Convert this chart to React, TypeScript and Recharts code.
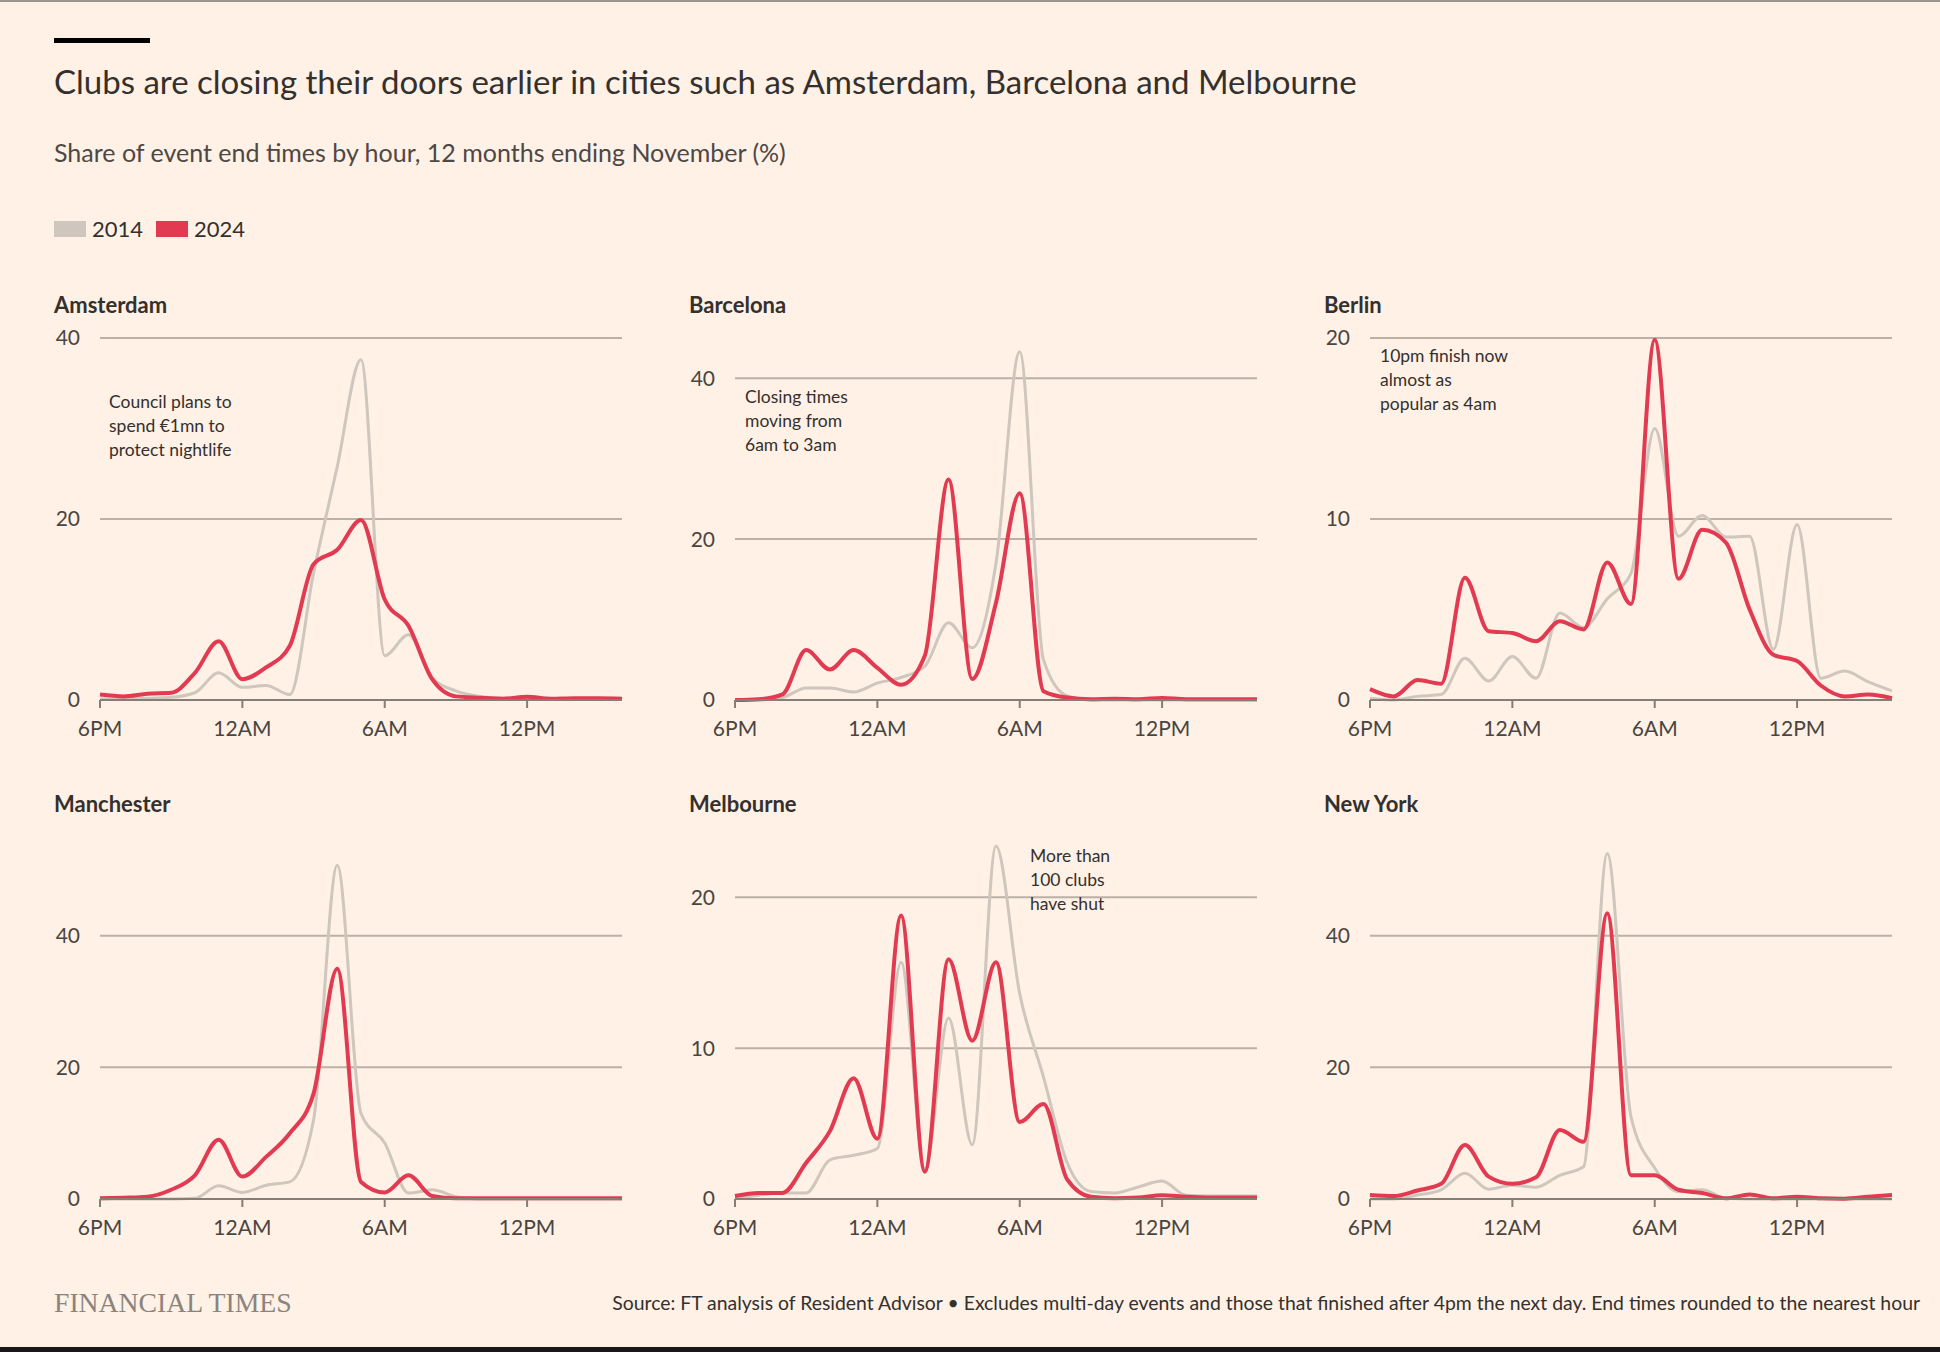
import { LineChart, Line, XAxis, YAxis, ReferenceLine } from "recharts";

// hours after 6PM (0 = 6PM ... 22 = 4PM next day)
const hours = [0, 1, 2, 3, 4, 5, 6, 7, 8, 9, 10, 11, 12, 13, 14, 15, 16, 17, 18, 19, 20, 21, 22];
const xTicks = [0, 6, 12, 18];
const xTickLabels = ["6PM", "12AM", "6AM", "12PM"];

const amsterdam2014 = [0.1, 0.1, 0.2, 0.3, 0.8, 3.0, 1.4, 1.6, 0.6, 14, 25.8, 37.6, 4.9, 7.2, 2.5, 1.0, 0.4, 0.2, 0.2, 0.1, 0.1, 0.1, 0.1];
const amsterdam2024 = [0.6, 0.4, 0.7, 0.8, 3.0, 6.5, 2.3, 3.6, 6.0, 15.0, 16.6, 19.9, 11.1, 8.2, 2.3, 0.4, 0.25, 0.15, 0.35, 0.15, 0.2, 0.2, 0.15];

const barcelona2014 = [0, 0, 0.3, 1.5, 1.5, 1.0, 2.1, 2.8, 4.2, 9.6, 6.5, 17, 43.3, 5, 0.5, 0, 0, 0, 0, 0, 0, 0, 0];
const barcelona2024 = [0, 0.1, 0.7, 6.2, 3.8, 6.2, 4.0, 1.9, 5.5, 27.4, 2.6, 12.1, 25.7, 1.1, 0.3, 0.1, 0.15, 0.1, 0.25, 0.1, 0.1, 0.1, 0.1];

const berlin2014 = [0.1, 0, 0.2, 0.3, 2.3, 1.05, 2.4, 1.2, 4.8, 4.0, 5.6, 7.0, 15.0, 9.05, 10.2, 9.0, 9.05, 2.8, 9.7, 1.2, 1.6, 1.0, 0.5];
const berlin2024 = [0.6, 0.2, 1.1, 0.9, 6.75, 3.8, 3.7, 3.25, 4.35, 3.9, 7.6, 5.3, 19.9, 6.7, 9.4, 8.7, 5.0, 2.5, 2.15, 0.8, 0.2, 0.3, 0.1];

const manchester2014 = [0, 0, 0, 0, 0.1, 2.0, 1.0, 2.1, 2.6, 12, 50.7, 13, 8.5, 0.9, 1.4, 0.35, 0, 0, 0, 0, 0, 0, 0];
const manchester2024 = [0.1, 0.2, 0.35, 1.4, 3.6, 9.0, 3.4, 6.4, 10, 16, 35.0, 2.6, 1.0, 3.6, 0.45, 0.1, 0.1, 0.1, 0.1, 0.1, 0.1, 0.1, 0.1];

const melbourne2014 = [0.05, 0.25, 0.4, 0.4, 2.6, 2.9, 3.35, 15.7, 2.0, 12.0, 3.6, 23.4, 13.6, 8.1, 2.4, 0.5, 0.4, 0.8, 1.2, 0.25, 0.2, 0.2, 0.2];
const melbourne2024 = [0.2, 0.4, 0.4, 2.4, 4.5, 8.0, 4.0, 18.8, 1.8, 15.9, 10.5, 15.7, 5.1, 6.3, 1.3, 0.15, 0.05, 0.1, 0.25, 0.15, 0.1, 0.1, 0.1];

const newYork2014 = [0, 0, 0.6, 1.4, 3.9, 1.5, 2.1, 1.8, 3.6, 4.9, 52.5, 12.5, 4.7, 1.1, 1.4, 0.1, 0, 0, 0, 0, 0, 0, 0];
const newYork2024 = [0.6, 0.45, 1.3, 2.3, 8.2, 3.4, 2.3, 3.3, 10.5, 8.7, 43.4, 3.6, 3.6, 1.4, 0.9, 0.1, 0.7, 0.1, 0.35, 0.1, 0.05, 0.35, 0.6];

const panels = [
  { city: "Amsterdam", a: amsterdam2014, b: amsterdam2024, max: 40, yTicks: [0, 20, 40], note: ["Council plans to", "spend €1mn to", "protect nightlife"] },
  { city: "Barcelona", a: barcelona2014, b: barcelona2024, max: 45, yTicks: [0, 20, 40], note: ["Closing times", "moving from", "6am to 3am"] },
  { city: "Berlin", a: berlin2014, b: berlin2024, max: 20, yTicks: [0, 10, 20], note: ["10pm finish now", "almost as", "popular as 4am"] },
  { city: "Manchester", a: manchester2014, b: manchester2024, max: 55, yTicks: [0, 20, 40], note: [] },
  { city: "Melbourne", a: melbourne2014, b: melbourne2024, max: 24, yTicks: [0, 10, 20], note: ["More than", "100 clubs", "have shut"] },
  { city: "New York", a: newYork2014, b: newYork2024, max: 55, yTicks: [0, 20, 40], note: [] },
];

// where each panel's note sits, relative to the panel's top-left corner
const noteOffsets = [
  { x: 55, y: 408 },
  { x: 56, y: 403 },
  { x: 56, y: 362 },
  { x: 0, y: 0 },
  { x: 341, y: 363 },
  { x: 0, y: 0 },
];

const BG = "#FFF1E5";
const GREY = "#cfc6bd";
const RED = "#e23a51";
const TEXT = "#33302e";
const FONT = "Lato, 'Noto Sans', sans-serif";

function Panel({ idx }: { idx: number }) {
  const p = panels[idx];
  const col = idx % 3;
  const row = Math.floor(idx / 3);
  const left = 54 + col * 635;
  const top = 320 + row * 499;
  const data = hours.map((h, i) => ({ h, y2014: p.a[i], y2024: p.b[i] }));

  return (
    <div style={{ position: "absolute", left, top, width: 580, height: 422 }}>
      <LineChart width={580} height={422} data={data} margin={{ top: 18, right: 12, bottom: 0, left: 0 }}>
        <XAxis
          dataKey="h"
          type="number"
          domain={[0, 22]}
          ticks={xTicks}
          tickFormatter={(v) => xTickLabels[xTicks.indexOf(v)]}
          height={42}
          axisLine={{ stroke: "#857d76", strokeWidth: 2 }}
          tickLine={{ stroke: "#857d76", strokeWidth: 2 }}
          tickSize={8}
          tickMargin={13}
          tick={{ fontSize: 21, fill: "#4a4541", fontFamily: FONT }}
        />
        <YAxis
          type="number"
          domain={[0, p.max]}
          ticks={p.yTicks}
          width={46}
          axisLine={false}
          tickLine={false}
          tickSize={0}
          tickMargin={20}
          tick={{ fontSize: 21, fill: "#4a4541", fontFamily: FONT }}
        />
        {p.yTicks
          .filter((t) => t > 0)
          .map((t) => (
            <ReferenceLine key={t} y={t} stroke="#bcb1a7" strokeWidth={2} />
          ))}
        <Line type="monotone" dataKey="y2014" stroke={GREY} strokeWidth={3} dot={false} isAnimationActive={false} />
        <Line type="monotone" dataKey="y2024" stroke={RED} strokeWidth={4} dot={false} isAnimationActive={false} />
      </LineChart>
    </div>
  );
}

export default function App() {
  return (
    <div style={{ position: "absolute", left: 0, top: 0, width: 1940, height: 1352, background: BG, fontFamily: FONT, overflow: "hidden" }}>
      {panels.map((_, i) => (
        <Panel key={i} idx={i} />
      ))}
      <svg width={1940} height={1352} style={{ position: "absolute", left: 0, top: 0, pointerEvents: "none" }}>
        <rect x={0} y={0} width={1940} height={2} fill="#9b958f" />
        <rect x={54} y={38} width={96} height={5} fill="#000" />
        <text x={54} y={94} fontSize={33} fill={TEXT} fontFamily={FONT}>
          Clubs are closing their doors earlier in cities such as Amsterdam, Barcelona and Melbourne
        </text>
        <text x={54} y={162} fontSize={25} fill="#4d4845" fontFamily={FONT}>
          Share of event end times by hour, 12 months ending November (%)
        </text>
        <rect x={54} y={221} width={32} height={16} fill={GREY} />
        <text x={92} y={237} fontSize={22} fill={TEXT} fontFamily={FONT}>2014</text>
        <rect x={156} y={221} width={32} height={16} fill={RED} />
        <text x={194} y={237} fontSize={22} fill={TEXT} fontFamily={FONT}>2024</text>
        {panels.map((p, i) => {
          const col = i % 3;
          const row = Math.floor(i / 3);
          const left = 54 + col * 635;
          const base = row * 499;
          return (
            <g key={p.city}>
              <text x={left} y={313 + base} fontSize={22} fontWeight={700} fill={TEXT} fontFamily={FONT}>
                {p.city}
              </text>
              {p.note.map((line, j) => (
                <text
                  key={j}
                  x={left + noteOffsets[i].x}
                  y={noteOffsets[i].y + base + j * 24}
                  fontSize={17.5}
                  fill={TEXT}
                  fontFamily={FONT}
                >
                  {line}
                </text>
              ))}
            </g>
          );
        })}
        <text x={54} y={1312} fontSize={27.7} fill="#8a847e" fontFamily="'Liberation Serif', serif">
          FINANCIAL TIMES
        </text>
        <text x={1920} y={1310} fontSize={19.4} fill={TEXT} textAnchor="end" fontFamily={FONT}>
          Source: FT analysis of Resident Advisor • Excludes multi-day events and those that finished after 4pm the next day. End times rounded to the nearest hour
        </text>
        <rect x={0} y={1347} width={1940} height={5} fill="#1a1817" />
      </svg>
    </div>
  );
}
